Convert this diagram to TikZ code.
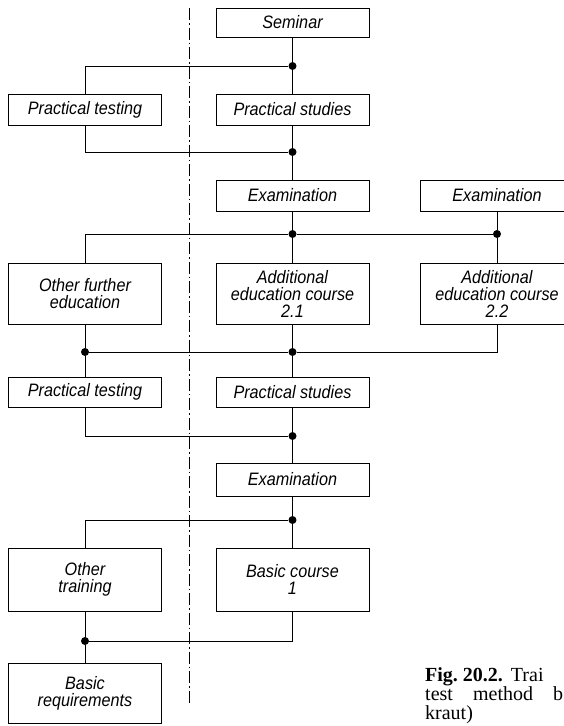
\documentclass[tikz,border=0pt]{standalone}
\usepackage{fontspec}
\setmainfont{Liberation Serif}
\newfontfamily\letterfont[FakeStretch=0.9]{Liberation Sans}

\tikzset{
  stage/.style={draw, line width=1pt, minimum width=153pt, inner sep=0pt, align=center,
    font=\letterfont\itshape\fontsize{18}{17}\selectfont},
  link/.style={line width=0.8pt},
  junct/.style={circle, fill, inner sep=0pt, minimum size=8pt},
  divider/.style={line width=1pt, dash pattern=on 12pt off 3pt on 1.5pt off 3pt},
  caption/.style={anchor=base west, inner sep=0pt, font=\fontsize{20}{20}\selectfont}
}

\begin{document}
\begin{tikzpicture}[x=1pt, y=-1pt]
    \useasboundingbox (0,0) rectangle (564,726);

    % Dividing line
    \coordinate (divtop) at (189,8);
    \coordinate (divbot) at (189,705);
    \draw[divider] (divtop) -- (divbot);

    % Boxes
    \node[stage, minimum height=29pt] (sem) at (292.5,22.5) {Seminar};
    \node[stage, minimum height=31pt] (ptest1) at (85,109.5) {Practical testing};
    \node[stage, minimum height=31pt] (pstud1) at (292.5,109.5) {Practical studies};
    \node[stage, minimum height=31pt] (exam1) at (292.5,195.5) {Examination};
    \node[stage, minimum height=31pt] (exam2) at (497,195.5) {Examination};
    \node[stage, minimum height=61pt] (other) at (85,293.5) {Other further\\education};
    \node[stage, minimum height=61pt] (add1) at (292.5,293.5) {Additional\\education course\\2.1};
    \node[stage, minimum height=61pt] (add2) at (497,293.5) {Additional\\education course\\2.2};
    \node[stage, minimum height=30pt] (ptest2) at (85,392) {Practical testing};
    \node[stage, minimum height=30pt] (pstud2) at (292.5,392) {Practical studies};
    \node[stage, minimum height=33pt] (exam3) at (292.5,479.5) {Examination};
    \node[stage, minimum height=63pt] (train) at (85,579.5) {Other\\training};
    \node[stage, minimum height=63pt] (basic) at (292.5,579.5) {Basic course\\1};
    \node[stage, minimum height=60pt] (req) at (85,693) {Basic\\requirements};

    % Junctions
    \node[junct] (j1) at (292.5,66) {};
    \node[junct] (j2) at (292.5,152) {};
    \node[junct] (j3) at (292.5,234) {};
    \node[junct] (j3r) at (497,234) {};
    \node[junct] (j4) at (292.5,352) {};
    \node[junct] (j4l) at (85,352) {};
    \node[junct] (j5) at (292.5,436) {};
    \node[junct] (j6) at (292.5,520) {};
    \node[junct] (j7) at (85,641) {};

    % Connections
    \draw[link] (sem) -- (j1) -- (pstud1);
    \draw[link] (j1) -| (ptest1);
    \draw[link] (pstud1) -- (j2) -- (exam1);
    \draw[link] (ptest1) |- (j2);
    \draw[link] (exam1) -- (j3) -- (add1);
    \draw[link] (j3) -| (other);
    \draw[link] (j3) -- (j3r);
    \draw[link] (exam2) -- (j3r) -- (add2);
    \draw[link] (add1) -- (j4) -- (pstud2);
    \draw[link] (other) -- (j4l) -- (ptest2);
    \draw[link] (j4l) -- (j4);
    \draw[link] (j4) -| (add2);
    \draw[link] (pstud2) -- (j5) -- (exam3);
    \draw[link] (ptest2) |- (j5);
    \draw[link] (exam3) -- (j6) -- (basic);
    \draw[link] (j6) -| (train);
    \draw[link] (basic) |- (j7);
    \draw[link] (train) -- (j7) -- (req);

    % Caption (cut off at the right)
    \node[caption] (cap1) at (425,681) {\textbf{Fig.\ 20.2.}\hspace{8pt}Trai};
    \node[caption] (cap2) at (425,700) {\makebox[138pt][s]{test method b}};
    \node[caption] (cap3) at (425,719) {kraut)};
\end{tikzpicture}
\end{document}
